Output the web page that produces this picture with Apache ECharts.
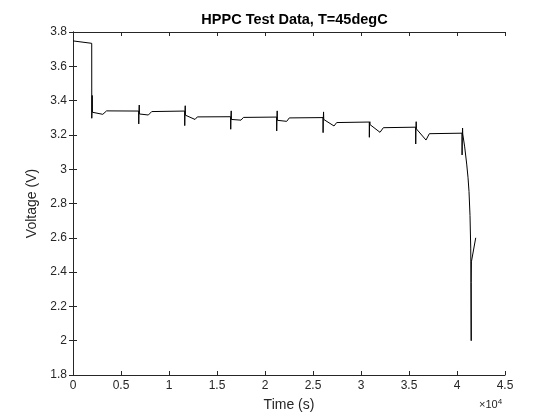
<!DOCTYPE html>
<html>
<head>
<meta charset="utf-8">
<script src="https://cdn.jsdelivr.net/npm/echarts@6/dist/echarts.min.js"></script>
<style>
html,body{margin:0;padding:0;background:#fff;}
#c{width:560px;height:420px;}
</style>
</head>
<body>
<div id="c"></div>
<script>
var titleText = "HPPC Test Data, T=45degC";
var xName = "Time (s)";
var yName = "Voltage (V)";
var xTicks = [0, 5000, 10000, 15000, 20000, 25000, 30000, 35000, 40000, 45000];
var yTicks = [1.8, 2, 2.2, 2.4, 2.6, 2.8, 3, 3.2, 3.4, 3.6, 3.8];

// time in seconds
var timeSec = [
  0, 1950, 1955, 1965, 1970, 2000, 2010, 2020, 3100, 3500, 6840,
  6850, 6860, 6870, 6900, 6910, 6920, 7850, 8200, 11630,
  11640, 11650, 11660, 11690, 11700, 11710, 12710, 12950, 16420,
  16430, 16440, 16450, 16480, 16490, 16500, 17500, 17750, 21210,
  21220, 21230, 21240, 21270, 21280, 21290, 22260, 22530, 26040,
  26050, 26060, 26070, 26100, 26110, 26120, 27190, 27470, 30860,
  30870, 30880, 30890, 30920, 30930, 30940, 31980, 32330, 35690,
  35700, 35710, 35720, 35750, 35760, 35770, 36770, 37120, 40520,
  40530, 40540, 40550, 40580, 40590, 40600, 40800, 41010, 41150, 41250, 41355, 41430, 41460, 41480,
  41470, 41500, 41950
];
// voltage in V
var voltage = [
  3.748, 3.734, 3.297, 3.300, 3.330, 3.430, 3.430, 3.332, 3.320, 3.340, 3.339,
  3.264, 3.264, 3.330, 3.374, 3.374, 3.322, 3.316, 3.336, 3.339,
  3.254, 3.254, 3.320, 3.370, 3.370, 3.315, 3.290, 3.305, 3.306,
  3.233, 3.233, 3.300, 3.340, 3.340, 3.290, 3.286, 3.302, 3.304,
  3.223, 3.223, 3.290, 3.340, 3.340, 3.285, 3.279, 3.299, 3.301,
  3.213, 3.213, 3.290, 3.334, 3.334, 3.290, 3.252, 3.272, 3.275,
  3.186, 3.186, 3.260, 3.277, 3.277, 3.260, 3.215, 3.242, 3.245,
  3.147, 3.147, 3.230, 3.277, 3.277, 3.235, 3.170, 3.207, 3.210,
  3.083, 3.083, 3.190, 3.240, 3.240, 3.205, 3.130, 3.030, 2.950, 2.870, 2.730, 2.540, 2.340, 2.000,
  2.340, 2.460, 2.600
];

var seriesData = timeSec.map(function (t, i) { return [t, voltage[i]]; });

var axisColor = '#262626';
var chart = echarts.init(document.getElementById('c'), null, {renderer: 'canvas'});
var font = 'Liberation Sans, Arial, sans-serif';

function yFmt(v) { return String(parseFloat(v.toFixed(1))); }
function xFmt(v) { return String(parseFloat((v / 10000).toFixed(1))); }

chart.setOption({
  animation: false,
  backgroundColor: '#fff',
  title: {
    text: titleText,
    left: 289.5, textAlign: 'center', top: 7,
    textStyle: {fontFamily: font, fontSize: 14.5, fontWeight: 'bold', color: '#000'}
  },
  grid: {left: 73, right: 55, top: 32, bottom: 45, containLabel: false},
  xAxis: [{
    type: 'value', min: xTicks[0], max: xTicks[xTicks.length - 1], interval: 5000,
    position: 'bottom',
    name: xName, nameLocation: 'middle', nameGap: 23,
    nameTextStyle: {fontFamily: font, fontSize: 14, color: axisColor},
    axisLine: {show: true, lineStyle: {color: axisColor, width: 1}},
    axisTick: {show: true, inside: true, length: 4, lineStyle: {color: axisColor}},
    axisLabel: {formatter: xFmt, fontFamily: font, fontSize: 12, color: axisColor, margin: 5},
    splitLine: {show: false}
  }, {
    type: 'value', min: xTicks[0], max: xTicks[xTicks.length - 1], interval: 5000,
    position: 'top',
    axisLine: {show: true, lineStyle: {color: axisColor, width: 1}},
    axisTick: {show: true, inside: true, length: 4, lineStyle: {color: axisColor}},
    axisLabel: {show: false},
    splitLine: {show: false}
  }],
  yAxis: [{
    type: 'value', min: yTicks[0], max: yTicks[yTicks.length - 1], interval: 0.2,
    position: 'left',
    name: yName, nameLocation: 'middle', nameGap: 27, nameRotate: 90,
    nameTextStyle: {fontFamily: font, fontSize: 14, color: axisColor},
    axisLine: {show: true, lineStyle: {color: axisColor, width: 1}},
    axisTick: {show: true, inside: true, length: 4, lineStyle: {color: axisColor}},
    axisLabel: {formatter: yFmt, fontFamily: font, fontSize: 12, color: axisColor, margin: 6},
    splitLine: {show: false}
  }, {
    type: 'value', min: yTicks[0], max: yTicks[yTicks.length - 1], interval: 0.2,
    position: 'right',
    axisLine: {show: true, lineStyle: {color: axisColor, width: 1}},
    axisTick: {show: true, inside: true, length: 4, lineStyle: {color: axisColor}},
    axisLabel: {show: false},
    splitLine: {show: false}
  }],
  graphic: [{
    type: 'text', left: 479, top: 398,
    style: {
      text: '{a|×10}{b|4}',
      rich: {
        a: {fontFamily: font, fontSize: 11, fill: axisColor},
        b: {fontFamily: font, fontSize: 8, fill: axisColor, verticalAlign: 'top', padding: [0, 0, 6, 0]}
      }
    }
  }],
  series: [{
    type: 'line', data: seriesData, xAxisIndex: 0, yAxisIndex: 0,
    showSymbol: false, symbol: 'none',
    lineStyle: {color: '#000', width: 1},
    clip: true
  }]
});
</script>
</body>
</html>
